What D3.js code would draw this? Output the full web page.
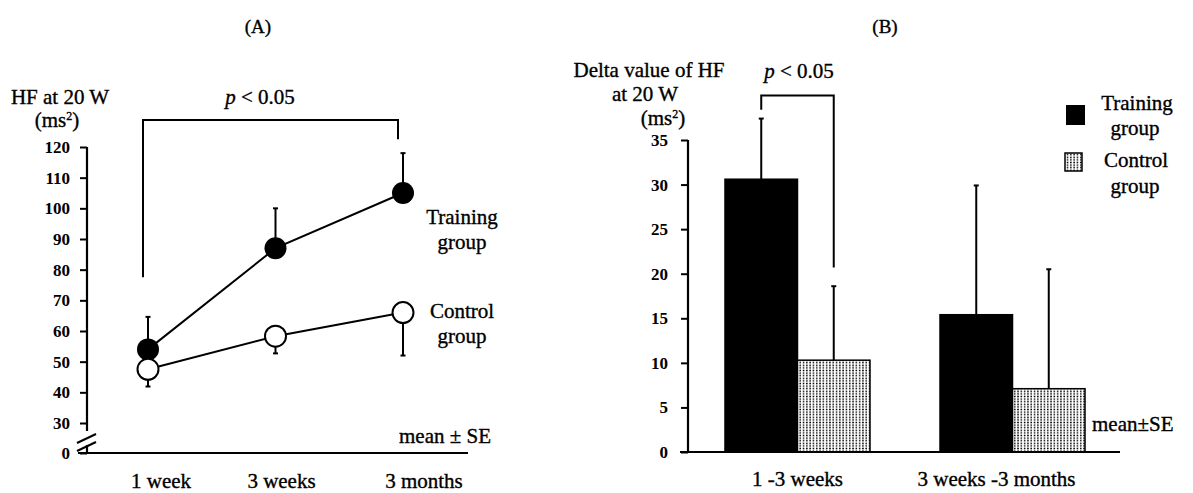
<!DOCTYPE html>
<html>
<head>
<meta charset="utf-8">
<script src="https://cdn.jsdelivr.net/npm/d3@7"></script>
<style>
  body { margin: 0; background: #fff; }
  text { font-family: "Liberation Serif", "Times New Roman", serif; fill: #000; stroke: #000; stroke-width: 0.35px; }
</style>
</head>
<body>
<svg id="chart" width="1193" height="493"></svg>
<script>
// (A) HF at 20 W over time
const timepoints = ["1 week", "3 weeks", "3 months"];
const trainingMean = [54, 87, 105];
const trainingSE = [10.6, 13, 13];
const controlMean = [47.5, 58.3, 66];
const controlSE = [5.6, 5.6, 14];
const hfTicks = [0, 30, 40, 50, 60, 70, 80, 90, 100, 110, 120];

// (B) delta values
const periods = ["1 -3 weeks", "3 weeks -3 months"];
const deltaTraining = [30.6, 15.4];
const deltaTrainingSE = [6.8, 14.5];
const deltaControl = [10.3, 7.1];
const deltaControlSE = [8.3, 13.4];
const deltaTicks = [0, 5, 10, 15, 20, 25, 30, 35];

const svg = d3.select("#chart");

// dotted fill for control bars
const pat = svg.append("defs").append("pattern")
  .attr("id", "dots")
  .attr("patternUnits", "userSpaceOnUse")
  .attr("width", 3.3)
  .attr("height", 2.6);
pat.append("rect").attr("width", 3.3).attr("height", 2.6).attr("fill", "#fff");
pat.append("circle").attr("cx", 1.65).attr("cy", 1.3).attr("r", 0.85).attr("fill", "#000");

function label(g, x, y, txt, size, anchor) {
  return g.append("text")
    .attr("x", x).attr("y", y)
    .attr("text-anchor", anchor || "middle")
    .attr("font-size", size || 21)
    .text(txt);
}

function msLabel(g, x, y) {
  const t = label(g, x, y, "(ms");
  t.append("tspan").attr("font-size", 12).attr("dy", -7).text("2");
  t.append("tspan").attr("dy", 7).text(")");
}

function pLabel(g, x, y) {
  const t = g.append("text")
    .attr("x", x).attr("y", y)
    .attr("text-anchor", "middle")
    .attr("font-size", 21);
  t.append("tspan").attr("font-style", "italic").text("p");
  t.append("tspan").text(" < 0.05");
}

function styleTicks(axis) {
  axis.select(".domain").remove();
  axis.selectAll(".tick line").attr("stroke-width", 2);
  axis.selectAll(".tick text")
    .style("font-family", "'Liberation Serif', serif")
    .style("font-size", "17px")
    .style("font-weight", "bold")
    .style("stroke-width", "0");
}

// ---------- Panel A ----------
function drawPanelA() {
  const g = svg.append("g");
  const axisX = 87;

  const x = d3.scalePoint().domain(timepoints).range([148, 403]);
  const y = d3.scaleLinear().domain([0, 30, 120]).range([453, 423, 147]);

  label(g, 258, 33, "(A)", 19);
  label(g, 60, 104, "HF at 20 W");
  msLabel(g, 57, 127);

  // y axis with break
  const yAxis = g.append("g")
    .attr("transform", `translate(${axisX},0)`)
    .call(d3.axisLeft(y).tickValues(hfTicks).tickSize(7).tickPadding(10));
  styleTicks(yAxis);

  const axisLine = d3.line();
  g.append("path")
    .attr("d", axisLine([[axisX, y(120)], [axisX, y(30) + 8]]))
    .attr("stroke", "#000").attr("stroke-width", 2.2).attr("fill", "none");
  g.append("path")
    .attr("d", axisLine([[axisX, y(0) - 8], [axisX, y(0)]]))
    .attr("stroke", "#000").attr("stroke-width", 2.2).attr("fill", "none");
  [y(0) - 15, y(0) - 7].forEach(cy => {
    g.append("path")
      .attr("d", axisLine([[axisX - 10, cy + 5], [axisX + 9, cy - 4]]))
      .attr("stroke", "#000").attr("stroke-width", 2).attr("fill", "none");
  });

  // x axis
  g.append("path")
    .attr("d", axisLine([[axisX - 9, y(0)], [468, y(0)]]))
    .attr("stroke", "#000").attr("stroke-width", 2.2);

  const labelShift = [13, 6, 21];
  timepoints.forEach((t, i) => label(g, x(t) + labelShift[i], 488, t));

  // significance bracket between 1 week and 3 months
  g.append("path")
    .attr("d", axisLine([
      [x(timepoints[0]) - 5, y(77.5)],
      [x(timepoints[0]) - 5, y(128.8)],
      [x(timepoints[2]) - 5, y(128.8)],
      [x(timepoints[2]) - 5, y(122.5)]
    ]))
    .attr("stroke", "#000").attr("stroke-width", 2).attr("fill", "none");
  pLabel(g, 260, 104);

  // error bars
  function errBar(xv, y0, y1) {
    g.append("line").attr("x1", xv).attr("x2", xv).attr("y1", y0).attr("y2", y1)
      .attr("stroke", "#000").attr("stroke-width", 2);
    g.append("line").attr("x1", xv - 2.5).attr("x2", xv + 2.5).attr("y1", y1).attr("y2", y1)
      .attr("stroke", "#000").attr("stroke-width", 2);
  }
  timepoints.forEach((t, i) => {
    errBar(x(t), y(trainingMean[i]), y(trainingMean[i] + trainingSE[i]));
    errBar(x(t), y(controlMean[i]), y(controlMean[i] - controlSE[i]));
  });

  const line = d3.line().x((d, i) => x(timepoints[i])).y(d => y(d));
  g.append("path").datum(trainingMean).attr("d", line)
    .attr("fill", "none").attr("stroke", "#000").attr("stroke-width", 2);
  g.append("path").datum(controlMean).attr("d", line)
    .attr("fill", "none").attr("stroke", "#000").attr("stroke-width", 2);

  g.selectAll("circle.train").data(trainingMean).join("circle")
    .attr("class", "train")
    .attr("cx", (d, i) => x(timepoints[i])).attr("cy", d => y(d))
    .attr("r", 11).attr("fill", "#000");
  g.selectAll("circle.ctrl").data(controlMean).join("circle")
    .attr("class", "ctrl")
    .attr("cx", (d, i) => x(timepoints[i])).attr("cy", d => y(d))
    .attr("r", 10.5).attr("fill", "#fff").attr("stroke", "#000").attr("stroke-width", 2);

  label(g, 462, 224, "Training");
  label(g, 462, 249, "group");
  label(g, 462, 318, "Control");
  label(g, 462, 343, "group");
  label(g, 445, 443, "mean \u00b1 SE");
}

// ---------- Panel B ----------
function drawPanelB() {
  const g = svg.append("g");
  const axisX = 688;

  const x0 = d3.scaleBand().domain(periods).range([axisX, 1122])
    .paddingInner(0.3256).paddingOuter(0.172);
  const x1 = d3.scaleBand().domain(["training", "control"]).range([0, x0.bandwidth()]);
  const y = d3.scaleLinear().domain([0, 35]).range([452, 140]);

  label(g, 885, 33, "(B)", 19);
  label(g, 649, 77, "Delta value of HF");
  label(g, 645, 101, "at 20 W");
  msLabel(g, 663, 125);

  const rows = periods.map((p, i) => [
    { period: p, key: "training", mean: deltaTraining[i], se: deltaTrainingSE[i] },
    { period: p, key: "control", mean: deltaControl[i], se: deltaControlSE[i] }
  ]).flat();

  g.selectAll("rect.bar").data(rows).join("rect")
    .attr("class", "bar")
    .attr("x", d => x0(d.period) + x1(d.key))
    .attr("y", d => y(d.mean))
    .attr("width", x1.bandwidth())
    .attr("height", d => y(0) - y(d.mean))
    .attr("fill", d => d.key === "training" ? "#000" : "url(#dots)")
    .attr("stroke", "#000")
    .attr("stroke-width", 1.5);

  const cx = d => x0(d.period) + x1(d.key) + x1.bandwidth() / 2;
  g.selectAll("line.err").data(rows).join("line")
    .attr("class", "err")
    .attr("x1", cx).attr("x2", cx)
    .attr("y1", d => y(d.mean)).attr("y2", d => y(d.mean + d.se))
    .attr("stroke", "#000").attr("stroke-width", 2);
  g.selectAll("line.cap").data(rows).join("line")
    .attr("class", "cap")
    .attr("x1", d => cx(d) - 2.5).attr("x2", d => cx(d) + 2.5)
    .attr("y1", d => y(d.mean + d.se)).attr("y2", d => y(d.mean + d.se))
    .attr("stroke", "#000").attr("stroke-width", 2);

  // axes
  const yAxis = g.append("g")
    .attr("transform", `translate(${axisX},0)`)
    .call(d3.axisLeft(y).tickValues(deltaTicks).tickSize(7).tickPadding(13));
  styleTicks(yAxis);
  const axisLine = d3.line();
  g.append("path")
    .attr("d", axisLine([[axisX, y(35)], [axisX, y(0)]]))
    .attr("stroke", "#000").attr("stroke-width", 2.2);
  g.append("path")
    .attr("d", axisLine([[axisX - 8, y(0)], [1120, y(0)]]))
    .attr("stroke", "#000").attr("stroke-width", 2.2);

  const labelShift = [0, -16];
  periods.forEach((p, i) => label(g, x0(p) + x0.bandwidth() / 2 + labelShift[i], 486, p));

  // significance bracket in first period
  const first = rows.slice(0, 2);
  g.append("path")
    .attr("d", axisLine([
      [cx(first[0]), y(38.4)],
      [cx(first[0]), y(40)],
      [cx(first[1]), y(40)],
      [cx(first[1]), y(20.7)]
    ]))
    .attr("stroke", "#000").attr("stroke-width", 2).attr("fill", "none");
  pLabel(g, 799, 78);

  // legend
  g.append("rect").attr("x", 1066).attr("y", 105).attr("width", 19).attr("height", 20).attr("fill", "#000");
  g.append("rect").attr("x", 1065).attr("y", 153).attr("width", 17).attr("height", 18)
    .attr("fill", "url(#dots)").attr("stroke", "#000").attr("stroke-width", 1.5);
  label(g, 1137, 110, "Training");
  label(g, 1135, 135, "group");
  label(g, 1136, 167, "Control");
  label(g, 1135, 193, "group");

  label(g, 1092, 431, "mean\u00b1SE", 21, "start");
}

drawPanelA();
drawPanelB();
</script>
</body>
</html>
